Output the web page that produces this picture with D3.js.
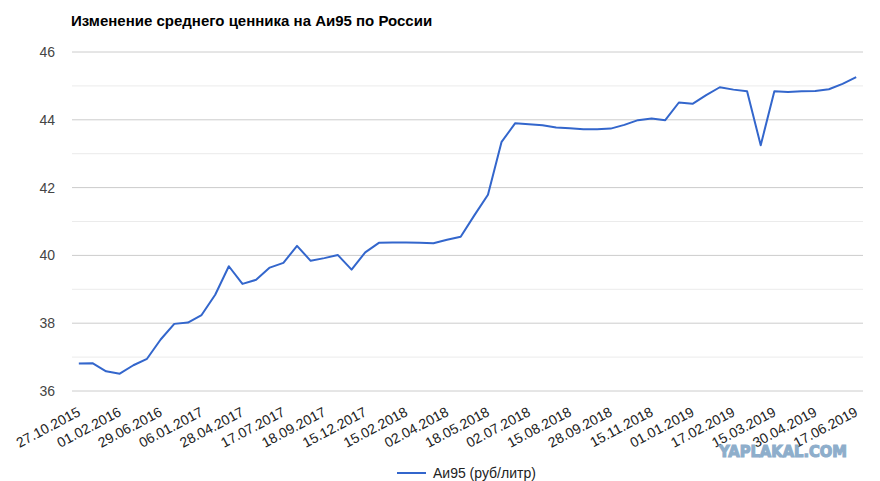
<!DOCTYPE html>
<html>
<head>
<meta charset="utf-8">
<script src="https://cdn.jsdelivr.net/npm/d3@7"></script>
<style>
  body { margin: 0; background: #fff; }
  svg { font-family: Arial, "Liberation Sans", sans-serif; display: block; }
</style>
</head>
<body>
<div id="chart"></div>
<script>
const title = "Изменение среднего ценника на Аи95 по России";
const seriesName = "Аи95 (руб/литр)";

// price per point, one value per observation date
const prices = [
  36.81, 36.82, 36.58, 36.51, 36.76, 36.95, 37.52, 37.98, 38.02, 38.24,
  38.84, 39.68, 39.16, 39.28, 39.64, 39.78, 40.28, 39.84, 39.92, 40.01,
  39.58, 40.09, 40.37, 40.38, 40.38, 40.37, 40.36, 40.46, 40.55, 41.18,
  41.79, 43.35, 43.90, 43.87, 43.84, 43.77, 43.75, 43.72, 43.72, 43.74,
  43.85, 43.99, 44.04, 43.99, 44.51, 44.47, 44.73, 44.96, 44.89, 44.84,
  43.25, 44.84, 44.82, 44.84, 44.85, 44.90, 45.06, 45.26
];

// every third date is shown on the axis
const tickLabels = [
  "27.10.2015", "01.02.2016", "29.06.2016", "06.01.2017", "28.04.2017",
  "17.07.2017", "18.09.2017", "15.12.2017", "15.02.2018", "02.04.2018",
  "18.05.2018", "02.07.2018", "15.08.2018", "28.09.2018", "15.11.2018",
  "01.01.2019", "17.02.2019", "15.03.2019", "30.04.2019", "17.06.2019"
];
const labelStep = 3;

const yMajor = [36, 38, 40, 42, 44, 46];
const yMinor = [37, 39, 41, 43, 45];

const w = 880, h = 481;
const padL = 72, padR = 863, padT = 52, padB = 391;
const lineColor = "#3366cc";

const svg = d3.select("#chart").append("svg")
  .attr("width", w)
  .attr("height", h);

const x = d3.scalePoint()
  .domain(d3.range(prices.length))
  .range([padL, padR])
  .padding(0.5);

const y = d3.scaleLinear()
  .domain([36, 46])
  .range([padB, padT]);

// gridlines
svg.append("g")
  .selectAll("line")
  .data(yMinor)
  .join("line")
  .attr("x1", padL).attr("x2", padR)
  .attr("y1", d => y(d)).attr("y2", d => y(d))
  .attr("stroke", "#ebebeb");

svg.append("g")
  .selectAll("line")
  .data(yMajor)
  .join("line")
  .attr("x1", padL).attr("x2", padR)
  .attr("y1", d => y(d)).attr("y2", d => y(d))
  .attr("stroke", "#cccccc");

// y axis labels
const yAxis = d3.axisLeft(y).tickValues(yMajor).tickSize(0).tickPadding(17);
svg.append("g")
  .attr("transform", "translate(" + padL + ",0)")
  .call(yAxis)
  .call(g => g.select(".domain").remove())
  .selectAll("text")
  .attr("font-size", 14)
  .attr("fill", "#444");

// x axis, slanted labels
const xAxis = d3.axisBottom(x)
  .tickValues(d3.range(0, prices.length, labelStep))
  .tickFormat(i => tickLabels[i / labelStep])
  .tickSize(0);

svg.append("g")
  .attr("transform", "translate(0," + padB + ")")
  .call(xAxis)
  .call(g => g.select(".domain").remove())
  .selectAll("text")
  .attr("font-size", 14)
  .attr("fill", "#222")
  .attr("text-anchor", "end")
  .attr("dy", 0)
  .attr("y", 0)
  .attr("transform", "translate(2,24) rotate(-28)");

// series line
const line = d3.line()
  .x((d, i) => x(i))
  .y(d => y(d));

svg.append("path")
  .datum(prices)
  .attr("d", line)
  .attr("fill", "none")
  .attr("stroke", lineColor)
  .attr("stroke-width", 2)
  .attr("stroke-linejoin", "round");

// title
svg.append("text")
  .attr("x", 71)
  .attr("y", 26)
  .attr("font-size", 15)
  .attr("font-weight", "bold")
  .attr("fill", "#000")
  .text(title);

// legend
const legend = svg.append("g").attr("transform", "translate(397,473)");
legend.append("line")
  .attr("x1", 0).attr("x2", 29)
  .attr("stroke", lineColor)
  .attr("stroke-width", 2);
legend.append("text")
  .attr("x", 36)
  .attr("y", 5)
  .attr("font-size", 14)
  .attr("fill", "#222")
  .text(seriesName);

// watermark
svg.append("text")
  .attr("x", 719)
  .attr("y", 457)
  .attr("font-family", "'DejaVu Sans', sans-serif")
  .attr("font-size", 16)
  .attr("font-weight", "bold")
  .attr("fill", "#8eaecb")
  .attr("stroke", "#8eaecb")
  .attr("stroke-width", 1.2)
  .attr("textLength", 128)
  .attr("lengthAdjust", "spacingAndGlyphs")
  .text("YAPLAKAL.COM");
</script>
</body>
</html>
